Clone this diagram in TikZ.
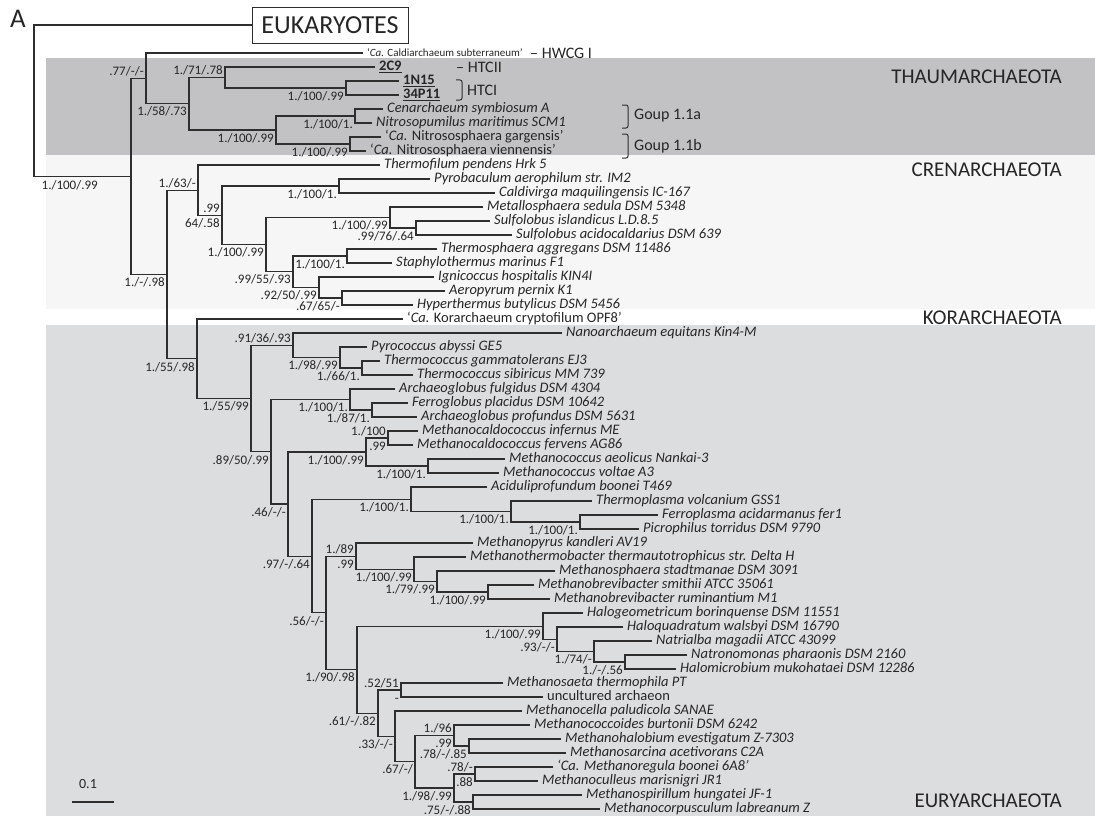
\documentclass[tikz,border=0pt]{standalone}
\usepackage{fontspec}
\setmainfont{Carlito}
\usetikzlibrary{calc}
\definecolor{thaumc}{HTML}{C2C2C5}
\definecolor{crenc}{HTML}{F6F6F6}
\definecolor{euryc}{HTML}{DCDDDF}
\definecolor{linec}{HTML}{2E2E2E}
\definecolor{textc}{HTML}{262626}
\newcommand\bsB[3]{\node[bs,anchor=north east] (#1) at ([xshift=-2pt,yshift=-4pt]#2) {#3};}
\newcommand\bsA[3]{\node[bs,anchor=south east] (#1) at ([xshift=-2pt,yshift=1.5pt]#2) {#3};}
\begin{document}
\begin{tikzpicture}[x=1pt,y=-1pt,
  lf/.style={anchor=west, inner xsep=4pt, inner ysep=0pt, text height=9.5pt, text depth=2.5pt, font=\fontsize{14.5}{16}\selectfont\itshape, text=textc},
  lfu/.style={lf, font=\fontsize{14.5}{16}\selectfont},
  bs/.style={inner sep=0pt, text height=8pt, text depth=1pt, font=\fontsize{13}{14}\selectfont, text=textc},
  clade/.style={anchor=east, inner sep=0pt, font=\fontsize{21}{24}\selectfont, text=textc},
  grp/.style={anchor=west, inner sep=0pt, font=\fontsize{16}{18}\selectfont, text=textc},
  br/.style={draw=linec, line width=1.1pt},
  brk/.style={draw=linec, line width=1pt, rounded corners=2pt}]
\useasboundingbox (0,0) rectangle (1095,816);
% bands
\fill[thaumc] (46,58) rectangle (1095,155);
\fill[crenc] (46,155) rectangle (1095,309);
\fill[euryc] (46,325) rectangle (1095,816);
% clade names
\node[clade] (thaum) at (1062,77) {THAUMARCHAEOTA};
\node[clade] (cren) at (1062,170) {CRENARCHAEOTA};
\node[clade] (kor) at (1062,318) {KORARCHAEOTA};
\node[clade] (eury) at (1062,801) {EURYARCHAEOTA};
% panel letter and eukaryotes
\node[inner sep=0pt, font=\fontsize{27}{30}\selectfont, text=textc] (panel) at (18,19) {A};
\node[draw=linec, line width=0.9pt, minimum width=156pt, minimum height=36pt, inner sep=0pt, font=\fontsize{26}{29}\selectfont, text=textc] (euk) at (330,25) {EUKARYOTES};
% internal nodes
\coordinate (R) at (34,100.7);
\coordinate (A1) at (131,176.4);
\coordinate (T0) at (146,78.4);
\coordinate (T1) at (189,103.75);
\coordinate (T2) at (225,77.5);
\coordinate (T4) at (346,88);
\coordinate (T3) at (276,130);
\coordinate (T5) at (355,116);
\coordinate (T6) at (350,144);
\coordinate (C0) at (167,274.5);
\coordinate (C1) at (198,190.2);
\coordinate (C2) at (222,215.3);
\coordinate (C3) at (339,186);
\coordinate (C4) at (266,244.6);
\coordinate (C5) at (390,217.5);
\coordinate (C7) at (416,228);
\coordinate (C6) at (293,271.75);
\coordinate (C8) at (347,256);
\coordinate (C9) at (319,287.5);
\coordinate (C10) at (342,298);
\coordinate (K0) at (197,358.8);
\coordinate (E0) at (251,398.5);
\coordinate (E1) at (293,345.25);
\coordinate (E3) at (340,357.5);
\coordinate (E4) at (362,368);
\coordinate (E2) at (271,451.8);
\coordinate (E5) at (350,399.5);
\coordinate (E8) at (372,410);
\coordinate (E9) at (288,504);
\coordinate (E10) at (366,452);
\coordinate (E11) at (388,438);
\coordinate (E12) at (428,466);
\coordinate (E13) at (312,556.1);
\coordinate (E14) at (411,499.25);
\coordinate (E16) at (511,511.5);
\coordinate (E17) at (580,522);
\coordinate (E15) at (326,612.9);
\coordinate (E18) at (356,556.1);
\coordinate (E20) at (414,569.25);
\coordinate (E21) at (437,581.5);
\coordinate (E22) at (488,592);
\coordinate (E19) at (357,669.6);
\coordinate (H0) at (543,626.1);
\coordinate (H1) at (557,639.25);
\coordinate (H2) at (594,651.5);
\coordinate (H3) at (625,662);
\coordinate (E23) at (378,713.2);
\coordinate (E24) at (401,690);
\coordinate (E25) at (395,736.4);
\coordinate (E26) at (415,761.75);
\coordinate (E27) at (454,735.5);
\coordinate (E29) at (469,746);
\coordinate (E28) at (454,788);
\coordinate (E30) at (475,774);
\coordinate (E31) at (473,802);
% leaves
\node[lfu, font=\fontsize{11}{12}\selectfont] (l1) at (363,53) {‘\textit{Ca.} Caldiarchaeum subterraneum’};
\node[lfu] (l2) at (375,67) {\underline{\textbf{2C9}}};
\node[lfu] (l3) at (399,81) {\underline{\textbf{1N15}}};
\node[lfu] (l4) at (399,95) {\underline{\textbf{34P11}}};
\node[lf] (l5) at (383,109) {Cenarchaeum symbiosum A};
\node[lf] (l6) at (372,123) {Nitrosopumilus maritimus SCM1};
\node[lfu] (l7) at (381,137) {‘\textit{Ca.} Nitrososphaera gargensis’};
\node[lfu] (l8) at (366,151) {‘\textit{Ca.} Nitrososphaera viennensis’};
\node[lf] (l9) at (380,165) {Thermofilum pendens Hrk 5};
\node[lf] (l10) at (430,179) {Pyrobaculum aerophilum str. IM2};
\node[lf] (l11) at (495,193) {Caldivirga maquilingensis IC-167};
\node[lf] (l12) at (483,207) {Metallosphaera sedula DSM 5348};
\node[lf] (l13) at (490,221) {Sulfolobus islandicus L.D.8.5};
\node[lf] (l14) at (512,235) {Sulfolobus acidocaldarius DSM 639};
\node[lf] (l15) at (437,249) {Thermosphaera aggregans DSM 11486};
\node[lf] (l16) at (392,263) {Staphylothermus marinus F1};
\node[lf] (l17) at (434,277) {Ignicoccus hospitalis KIN4I};
\node[lf] (l18) at (445,291) {Aeropyrum pernix K1};
\node[lf] (l19) at (413,305) {Hyperthermus butylicus DSM 5456};
\node[lfu] (l20) at (403,319) {‘\textit{Ca.} Korarchaeum cryptofilum OPF8’};
\node[lf] (l21) at (562,333) {Nanoarchaeum equitans Kin4-M};
\node[lf] (l22) at (367,347) {Pyrococcus abyssi GE5};
\node[lf] (l23) at (380,361) {Thermococcus gammatolerans EJ3};
\node[lf] (l24) at (413,375) {Thermococcus sibiricus MM 739};
\node[lf] (l25) at (395,389) {Archaeoglobus fulgidus DSM 4304};
\node[lf] (l26) at (408,403) {Ferroglobus placidus DSM 10642};
\node[lf] (l27) at (417,417) {Archaeoglobus profundus DSM 5631};
\node[lf] (l28) at (418,431) {Methanocaldococcus infernus ME};
\node[lf] (l29) at (413,445) {Methanocaldococcus fervens AG86};
\node[lf] (l30) at (505,459) {Methanococcus aeolicus Nankai-3};
\node[lf] (l31) at (499,473) {Methanococcus voltae A3};
\node[lf] (l32) at (487,487) {Aciduliprofundum boonei T469};
\node[lf] (l33) at (592,501) {Thermoplasma volcanium GSS1};
\node[lf] (l34) at (658,515) {Ferroplasma acidarmanus fer1};
\node[lf] (l35) at (639,529) {Picrophilus torridus DSM 9790};
\node[lf] (l36) at (473,543) {Methanopyrus kandleri AV19};
\node[lf] (l37) at (466,557) {Methanothermobacter thermautotrophicus str. Delta H};
\node[lf] (l38) at (555,571) {Methanosphaera stadtmanae DSM 3091};
\node[lf] (l39) at (534,585) {Methanobrevibacter smithii ATCC 35061};
\node[lf] (l40) at (550,599) {Methanobrevibacter ruminantium M1};
\node[lf] (l41) at (583,613) {Halogeometricum borinquense DSM 11551};
\node[lf] (l42) at (623,627) {Haloquadratum walsbyi DSM 16790};
\node[lf] (l43) at (652,641) {Natrialba magadii ATCC 43099};
\node[lf] (l44) at (687,655) {Natronomonas pharaonis DSM 2160};
\node[lf] (l45) at (676,669) {Halomicrobium mukohataei DSM 12286};
\node[lf] (l46) at (503,683) {Methanosaeta thermophila PT};
\node[lfu] (l47) at (543,697) {uncultured archaeon};
\node[lf] (l48) at (522,711) {Methanocella paludicola SANAE};
\node[lf] (l49) at (530,725) {Methanococcoides burtonii DSM 6242};
\node[lf] (l50) at (561,739) {Methanohalobium evestigatum Z-7303};
\node[lf] (l51) at (566,753) {Methanosarcina acetivorans C2A};
\node[lf] (l52) at (553,767) {‘Ca. Methanoregula boonei 6A8’};
\node[lf] (l53) at (538,781) {Methanoculleus marisnigri JR1};
\node[lf] (l54) at (582,795) {Methanospirillum hungatei JF-1};
\node[lf] (l55) at (600,809) {Methanocorpusculum labreanum Z};
% branches
\draw[br] (euk.west) -| (R) |- (A1);
\draw[br] (T0) -| (A1) |- (C0);
\draw[br] (l1.west) -| (T0) |- (T1);
\draw[br] (T2) -| (T1) |- (T3);
\draw[br] (l2.west) -| (T2) |- (T4);
\draw[br] (l3.west) -| (T4) |- (l4.west);
\draw[br] (T5) -| (T3) |- (T6);
\draw[br] (l5.west) -| (T5) |- (l6.west);
\draw[br] (l7.west) -| (T6) |- (l8.west);
\draw[br] (C1) -| (C0) |- (K0);
\draw[br] (l9.west) -| (C1) |- (C2);
\draw[br] (C3) -| (C2) |- (C4);
\draw[br] (l10.west) -| (C3) |- (l11.west);
\draw[br] (C5) -| (C4) |- (C6);
\draw[br] (l12.west) -| (C5) |- (C7);
\draw[br] (l13.west) -| (C7) |- (l14.west);
\draw[br] (C8) -| (C6) |- (C9);
\draw[br] (l15.west) -| (C8) |- (l16.west);
\draw[br] (l17.west) -| (C9) |- (C10);
\draw[br] (l18.west) -| (C10) |- (l19.west);
\draw[br] (l20.west) -| (K0) |- (E0);
\draw[br] (E1) -| (E0) |- (E2);
\draw[br] (l21.west) -| (E1) |- (E3);
\draw[br] (l22.west) -| (E3) |- (E4);
\draw[br] (l23.west) -| (E4) |- (l24.west);
\draw[br] (E5) -| (E2) |- (E9);
\draw[br] (l25.west) -| (E5) |- (E8);
\draw[br] (l26.west) -| (E8) |- (l27.west);
\draw[br] (E10) -| (E9) |- (E13);
\draw[br] (E11) -| (E10) |- (E12);
\draw[br] (l28.west) -| (E11) |- (l29.west);
\draw[br] (l30.west) -| (E12) |- (l31.west);
\draw[br] (E14) -| (E13) |- (E15);
\draw[br] (l32.west) -| (E14) |- (E16);
\draw[br] (l33.west) -| (E16) |- (E17);
\draw[br] (l34.west) -| (E17) |- (l35.west);
\draw[br] (E18) -| (E15) |- (E19);
\draw[br] (l36.west) -| (E18) |- (E20);
\draw[br] (l37.west) -| (E20) |- (E21);
\draw[br] (l38.west) -| (E21) |- (E22);
\draw[br] (l39.west) -| (E22) |- (l40.west);
\draw[br] (H0) -| (E19) |- (E23);
\draw[br] (l41.west) -| (H0) |- (H1);
\draw[br] (l42.west) -| (H1) |- (H2);
\draw[br] (l43.west) -| (H2) |- (H3);
\draw[br] (l44.west) -| (H3) |- (l45.west);
\draw[br] (E24) -| (E23) |- (E25);
\draw[br] (l46.west) -| (E24) |- (l47.west);
\draw[br] (l48.west) -| (E25) |- (E26);
\draw[br] (E27) -| (E26) |- (E28);
\draw[br] (l49.west) -| (E27) |- (E29);
\draw[br] (l50.west) -| (E29) |- (l51.west);
\draw[br] (E30) -| (E28) |- (E31);
\draw[br] (l52.west) -| (E30) |- (l53.west);
\draw[br] (l54.west) -| (E31) |- (l55.west);
% support values
\node[bs,anchor=north east] (bA1) at (98,181) {1./100/.99};
\bsA{aT0}{T0}{.77/-/-}
\bsB{bT1}{T1}{1./58/.73}
\bsA{aT2}{T2}{1./71/.78}
\bsB{bT4}{T4}{1./100/.99}
\bsB{bT3}{T3}{1./100/.99}
\bsB{bT5}{T5}{1./100/1.}
\bsB{bT6}{T6}{1./100/.99}
\bsB{bC0}{C0}{1./-/.98}
\bsA{aC1}{C1}{1./63/-}
\bsA{aC2}{C2}{.99}
\bsB{bC2}{C2}{64/.58}
\bsB{bC3}{C3}{1./100/1.}
\bsB{bC4}{C4}{1./100/.99}
\bsB{bC5}{C5}{1./100/.99}
\bsB{bC7}{C7}{.99/76/.64}
\bsB{bC6}{C6}{.99/55/.93}
\bsB{bC8}{C8}{1./100/1.}
\bsB{bC9}{C9}{.92/50/.99}
\bsB{bC10}{C10}{.67/65/-}
\bsB{bK0}{K0}{1./55/.98}
\bsB{bE0}{E0}{1./55/99}
\bsA{aE1}{E1}{.91/36/.93}
\bsB{bE3}{E3}{1./98/.99}
\bsB{bE4}{E4}{1./66/1.}
\bsB{bE2}{E2}{.89/50/.99}
\bsB{bE5}{E5}{1./100/1.}
\bsB{bE8}{E8}{1./87/1.}
\bsB{bE9}{E9}{.46/-/-}
\bsB{bE10}{E10}{1./100/.99}
\bsA{aE11}{E11}{1./100}
\bsB{bE11}{E11}{.99}
\bsB{bE12}{E12}{1./100/1.}
\bsB{bE13}{E13}{.97/-/.64}
\bsB{bE14}{E14}{1./100/1.}
\bsB{bE16}{E16}{1./100/1.}
\bsB{bE17}{E17}{1./100/1.}
\bsB{bE15}{E15}{.56/-/-}
\bsA{aE18}{E18}{1./89}
\bsB{bE18}{E18}{.99}
\bsB{bE20}{E20}{1./100/.99}
\bsB{bE21}{E21}{1./79/.99}
\bsB{bE22}{E22}{1./100/.99}
\bsB{bE19}{E19}{1./90/.98}
\bsB{bH0}{H0}{1./100/.99}
\bsB{bH1}{H1}{.93/-/-}
\bsB{bH2}{H2}{1./74/-}
\bsB{bH3}{H3}{1./-/.56}
\bsB{bE23}{E23}{.61/-/.82}
\bsA{aE24}{E24}{.52/51}
\bsB{bE24}{E24}{-}
\bsB{bE25}{E25}{.33/-/-}
\bsB{bE26}{E26}{.67/-/}
\bsA{aE27}{E27}{1./96}
\bsB{bE27}{E27}{.99}
\bsB{bE29}{E29}{.78/-/.85}
\bsB{bE28}{E28}{1./98/.99}
\bsA{aE30}{E30}{.78/-}
\bsB{bE30}{E30}{.88}
\bsB{bE31}{E31}{.75/-/.88}
% group labels
\node[grp] (hwcg) at (530,53) {– HWCG I};
\node[grp] (htcii) at (456,67) {– HTCII};
\draw[brk] (456,80) -- (462,80) -- (462,100) -- (456,100);
\node[grp] (htci) at (467,90) {HTCI};
\draw[brk] (622,105) -- (628,105) -- (628,128) -- (622,128);
\node[grp] (g1a) at (634,116) {Goup 1.1a};
\draw[brk] (622,134) -- (628,134) -- (628,158) -- (622,158);
\node[grp] (g1b) at (634,146) {Goup 1.1b};
% scale bar
\node[inner sep=0pt, font=\fontsize{14}{16}\selectfont, text=textc] (sclab) at (88,784) {0.1};
\coordinate (sb1) at (72,802);
\coordinate (sb2) at (114,802);
\draw[br] (sb1) -- (sb2);
\end{tikzpicture}
\end{document}
